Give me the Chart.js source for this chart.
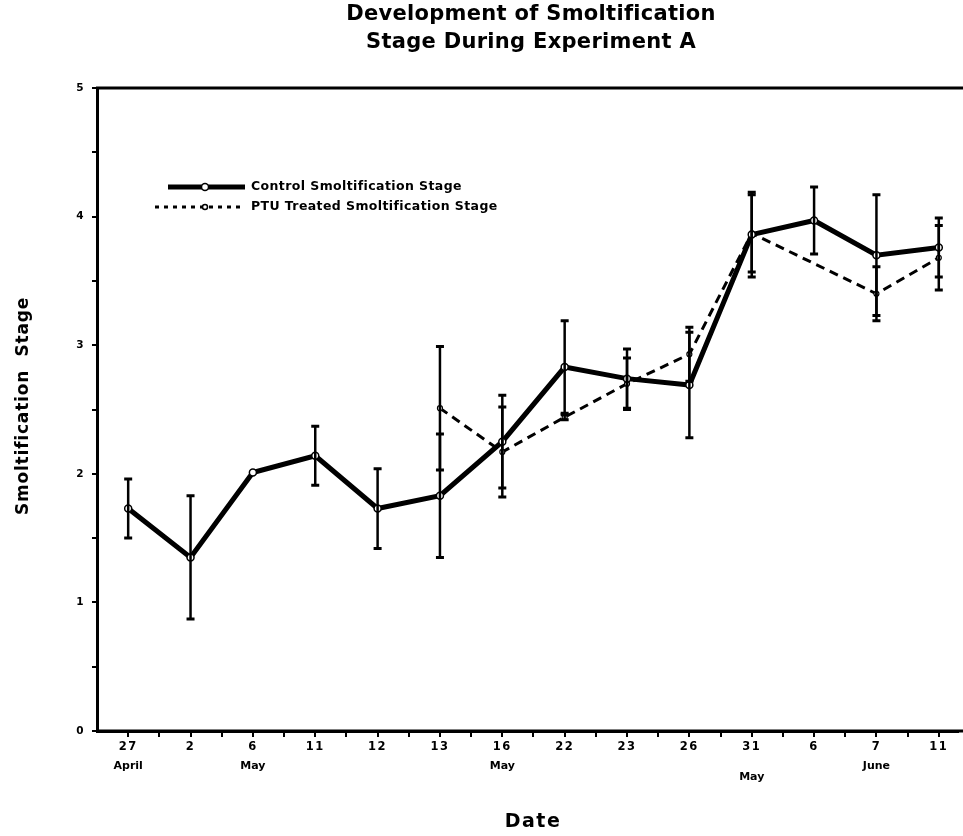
<!DOCTYPE html>
<html><head><meta charset="utf-8">
<script src="https://cdn.jsdelivr.net/npm/chart.js@4.4.0/dist/chart.umd.min.js"></script>
<style>html,body{margin:0;padding:0;background:#fff}#wrap{width:963px;height:836px}</style>
</head><body><div id="wrap"><canvas id="c" width="963" height="836"></canvas></div>
<script>
const categories = ['27','2','6','11','12','13','16','22','23','26','31','6','7','11'];
const months = ['April','','May','','','','May','','','','May','','June',''];
const controlStage = [1.73, 1.35, 2.01, 2.14, 1.73, 1.83, 2.25, 2.83, 2.74, 2.69, 3.86, 3.97, 3.70, 3.76];
const controlErr   = [0.23, 0.48, 0,    0.23, 0.31, 0.48, 0.36, 0.36, 0.23, 0.41, 0.33, 0.26, 0.47, 0.23];
const ptuStage = [null, null, null, null, null, 2.51, 2.17, 2.44, 2.70, 2.93, 3.87, null, 3.40, 3.68];
const ptuErr   = [null, null, null, null, null, 0.48, 0.35, 0.02, 0.20, 0.21, 0.30, null, 0.21, 0.25];
const yTickValues = [0, 1, 2, 3, 4, 5];
const titleLines = ['Development of Smoltification', 'Stage During Experiment A'];
const legendLabels = ['Control Smoltification Stage', 'PTU Treated Smoltification Stage'];

const FONT = '"DejaVu Sans", "Liberation Sans", sans-serif';

const toPoints = arr => arr.map((v, i) => ({x: i, y: v}));

const spacing = {
  id: 'spacing',
  beforeDraw(chart) { chart.ctx.letterSpacing = '1.5px'; },
  afterDatasetsDraw(chart) { chart.ctx.letterSpacing = '0px'; }
};

const errorBars = {
  id: 'errorBars',
  afterDatasetsDraw(chart) {
    const {ctx, scales: {x, y}} = chart;
    const errs = [controlErr, ptuErr];
    const vals = [controlStage, ptuStage];
    ctx.save();
    ctx.strokeStyle = '#000';
    for (let d = 0; d < 2; d++) {
      vals[d].forEach((v, i) => {
        const e = errs[d][i];
        if (v == null || !e) return;
        const px = x.getPixelForValue(i);
        const top = y.getPixelForValue(v + e), bot = y.getPixelForValue(v - e);
        ctx.lineWidth = 2.5;
        ctx.beginPath(); ctx.moveTo(px, top); ctx.lineTo(px, bot); ctx.stroke();
        ctx.lineWidth = 3;
        ctx.beginPath();
        ctx.moveTo(px - 4, top); ctx.lineTo(px + 4, top);
        ctx.moveTo(px - 4, bot); ctx.lineTo(px + 4, bot);
        ctx.stroke();
      });
    }
    ctx.restore();
  }
};

const decorations = {
  id: 'decorations',
  afterDraw(chart) {
    const {ctx, chartArea: ca, scales: {x, y}} = chart;
    ctx.save();
    ctx.strokeStyle = '#000';
    ctx.lineWidth = 3;
    ctx.beginPath(); ctx.moveTo(ca.left - 1, ca.top); ctx.lineTo(chart.width, ca.top); ctx.stroke();
    ctx.beginPath(); ctx.moveTo(ca.left - 1, ca.bottom); ctx.lineTo(chart.width, ca.bottom); ctx.stroke();
    ctx.fillStyle = '#000';
    ctx.textAlign = 'center';
    ctx.textBaseline = 'middle';
    // title
    ctx.letterSpacing = '0.3px';
    ctx.font = 'bold 21px ' + FONT;
    ctx.fillText(titleLines[0], 531, 15);
    ctx.fillText(titleLines[1], 531, 43);
    // month labels
    ctx.letterSpacing = '0px';
    ctx.font = 'bold 11px ' + FONT;
    months.forEach((m, i) => {
      if (!m) return;
      const py = (i === 10) ? 777 : 766;
      ctx.fillText(m, x.getPixelForValue(i), py);
    });
    // x title
    ctx.letterSpacing = '1.5px';
    ctx.font = 'bold 19px ' + FONT;
    ctx.fillText('Date', 533, 822);
    // y title
    ctx.save();
    ctx.translate(24, 406);
    ctx.rotate(-Math.PI / 2);
    ctx.letterSpacing = '0.8px';
    ctx.font = 'bold 17px ' + FONT;
    ctx.fillText('Smoltification  Stage', 0, 0);
    ctx.restore();
    // legend
    ctx.textAlign = 'left';
    ctx.letterSpacing = '0.4px';
    ctx.font = 'bold 12.5px ' + FONT;
    ctx.lineWidth = 5;
    ctx.setLineDash([]);
    ctx.beginPath(); ctx.moveTo(168, 187); ctx.lineTo(245, 187); ctx.stroke();
    ctx.lineWidth = 1.5; ctx.fillStyle = '#fff';
    ctx.beginPath(); ctx.arc(205, 187, 3.5, 0, Math.PI * 2); ctx.fill(); ctx.stroke();
    ctx.fillStyle = '#000';
    ctx.fillText(legendLabels[0], 251, 187);
    ctx.lineWidth = 3;
    ctx.setLineDash([4, 5]);
    ctx.beginPath(); ctx.moveTo(155, 207); ctx.lineTo(245, 207); ctx.stroke();
    ctx.setLineDash([]);
    ctx.lineWidth = 1.5; ctx.fillStyle = '#fff';
    ctx.beginPath(); ctx.arc(205, 207, 2.5, 0, Math.PI * 2); ctx.fill(); ctx.stroke();
    ctx.fillStyle = '#000';
    ctx.fillText(legendLabels[1], 251, 207);
    ctx.restore();
  }
};

new Chart(document.getElementById('c'), {
  type: 'line',
  data: {
    datasets: [
      {
        label: legendLabels[0],
        data: toPoints(controlStage),
        borderColor: '#000', borderWidth: 5,
        pointRadius: 3.5, pointBackgroundColor: '#fff', pointBorderColor: '#000', pointBorderWidth: 1.5,
        tension: 0, order: 1
      },
      {
        label: legendLabels[1],
        data: toPoints(ptuStage),
        borderColor: '#000', borderWidth: 3, borderDash: [9, 6], spanGaps: true,
        pointRadius: 2.5, pointBackgroundColor: '#fff', pointBorderColor: '#000', pointBorderWidth: 1.2,
        tension: 0, order: 2
      }
    ]
  },
  options: {
    responsive: false,
    animation: false,
    devicePixelRatio: 1,
    layout: {padding: {top: 88, left: 0, right: -6, bottom: 0}},
    plugins: {legend: {display: false}, tooltip: {enabled: false}, title: {display: false}},
    scales: {
      x: {
        type: 'linear', min: -0.5, max: 13.3,
        afterBuildTicks: s => { const t = []; for (let v = 0; v <= 13; v += 0.5) t.push({value: v}); s.ticks = t; },
        afterFit: s => { s.height = 105; },
        ticks: {
          autoSkip: false, maxRotation: 0, minRotation: 0, color: '#000', padding: 3,
          font: {family: FONT, weight: 'bold', size: 11.5},
          callback: v => Number.isInteger(v) ? categories[v] : ''
        },
        grid: {drawOnChartArea: false, drawTicks: true, tickLength: 6, lineWidth: 2, color: '#000'},
        border: {display: true, width: 3, color: '#000'}
      },
      y: {
        min: 0, max: 5,
        afterBuildTicks: s => { const t = []; for (let v = 0; v <= 5; v += 0.5) t.push({value: v}); s.ticks = t; },
        afterFit: s => { s.width = 97; },
        ticks: {
          color: '#000', padding: 7,
          font: {family: FONT, weight: 'bold', size: 10.5},
          callback: v => yTickValues.includes(v) ? String(v) : ''
        },
        grid: {drawOnChartArea: false, drawTicks: true, tickLength: 5, lineWidth: 2, color: '#000'},
        border: {display: true, width: 3, color: '#000'}
      }
    }
  },
  plugins: [spacing, errorBars, decorations]
});
</script>
</body></html>
